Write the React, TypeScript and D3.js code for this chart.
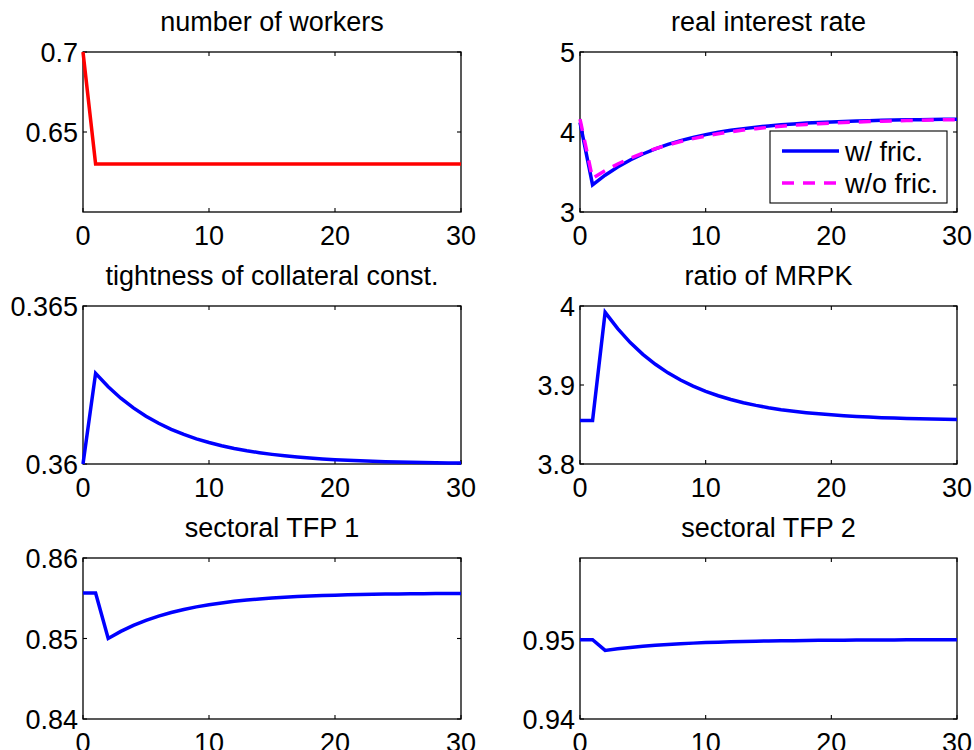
import React from 'react';
import * as d3 from 'd3';

// periods 0..30
const periods = d3.range(0, 31);

const workers = [0.7, 0.63, 0.63, 0.63, 0.63, 0.63, 0.63, 0.63, 0.63, 0.63, 0.63,
  0.63, 0.63, 0.63, 0.63, 0.63, 0.63, 0.63, 0.63, 0.63, 0.63,
  0.63, 0.63, 0.63, 0.63, 0.63, 0.63, 0.63, 0.63, 0.63, 0.63];

const rateFric = [4.12, 3.34, 3.46, 3.562, 3.65, 3.725, 3.79, 3.845, 3.892, 3.932, 3.967,
  3.996, 4.021, 4.042, 4.06, 4.076, 4.09, 4.101, 4.111, 4.119, 4.126,
  4.132, 4.137, 4.142, 4.146, 4.149, 4.152, 4.154, 4.156, 4.158, 4.16];

const rateNoFric = [4.16, 3.42, 3.516, 3.6, 3.673, 3.736, 3.791, 3.839, 3.881, 3.917, 3.95,
  3.978, 4.003, 4.024, 4.042, 4.058, 4.072, 4.084, 4.095, 4.104, 4.112,
  4.119, 4.125, 4.13, 4.135, 4.139, 4.143, 4.146, 4.149, 4.152, 4.155];

const tightness = [0.36, 0.36287, 0.362445, 0.362083, 0.361775, 0.361512, 0.361288, 0.361098, 0.360935, 0.360797, 0.360679,
  0.360578, 0.360493, 0.36042, 0.360358, 0.360305, 0.36026, 0.360221, 0.360188, 0.360161, 0.360137,
  0.360117, 0.3601, 0.360085, 0.360072, 0.360062, 0.360052, 0.360045, 0.360038, 0.360032, 0.360028];

const mrpk = [3.855, 3.855, 3.992, 3.9713, 3.9537, 3.9388, 3.9262, 3.9154, 3.9063, 3.8986, 3.892,
  3.8864, 3.8816, 3.8776, 3.8742, 3.8713, 3.8688, 3.8668, 3.865, 3.8635, 3.8622,
  3.8611, 3.8602, 3.8594, 3.8587, 3.8582, 3.8577, 3.8573, 3.857, 3.8567, 3.8564];

const tfp1 = [0.85565, 0.85565, 0.85, 0.850881, 0.851625, 0.852253, 0.852783, 0.85323, 0.853608, 0.853926, 0.854195,
  0.854422, 0.854614, 0.854775, 0.854912, 0.855027, 0.855124, 0.855206, 0.855275, 0.855334, 0.855383,
  0.855425, 0.85546, 0.85549, 0.855515, 0.855536, 0.855554, 0.855569, 0.855581, 0.855592, 0.855601];

const tfp2 = [0.95, 0.95, 0.94865, 0.948852, 0.949025, 0.949171, 0.949295, 0.949401, 0.949491, 0.949567, 0.949632,
  0.949687, 0.949734, 0.949774, 0.949808, 0.949837, 0.949861, 0.949882, 0.9499, 0.949915, 0.949928,
  0.94994, 0.94995, 0.94996, 0.94997, 0.94997, 0.94998, 0.94998, 0.94998, 0.94999, 0.94999];

const xTicks = [0, 10, 20, 30];

const titles = ['number of workers', 'real interest rate', 'tightness of collateral const.',
  'ratio of MRPK', 'sectoral TFP 1', 'sectoral TFP 2'];
const yDomains = [[0.6, 0.7], [3, 5], [0.36, 0.365], [3.8, 4], [0.84, 0.86], [0.94, 0.9603]];
const yTicks = [[0.65, 0.7], [3, 4, 5], [0.36, 0.365], [3.8, 3.9, 4], [0.84, 0.85, 0.86], [0.94, 0.95]];
const yTickLabels = [['0.65', '0.7'], ['3', '4', '5'], ['0.36', '0.365'], ['3.8', '3.9', '4'],
  ['0.84', '0.85', '0.86'], ['0.94', '0.95']];

const legendLabels = ['w/ fric.', 'w/o fric.'];

type Series = { values: number[]; color: string; dash?: string };

const panelSeries: Series[][] = [
  [{ values: workers, color: '#ff0000' }],
  [{ values: rateFric, color: '#0000ff' }, { values: rateNoFric, color: '#ff00ff', dash: '12,9' }],
  [{ values: tightness, color: '#0000ff' }],
  [{ values: mrpk, color: '#0000ff' }],
  [{ values: tfp1, color: '#0000ff' }],
  [{ values: tfp2, color: '#0000ff' }],
];

const W = 974;
const H = 750;
const colX = [[83, 461], [580, 957]];
const rowY = [[52, 212], [306, 464], [558, 719]];
const FONT = '"Liberation Sans", Arial, Helvetica, sans-serif';
const FS = 27;
const TICK = 4;

const Panel: React.FC<{ idx: number }> = ({ idx }) => {
  const [x0, x1] = colX[idx % 2];
  const [y0, y1] = rowY[Math.floor(idx / 2)];
  const x = d3.scaleLinear().domain([0, 30]).range([x0, x1]);
  const y = d3.scaleLinear().domain(yDomains[idx]).range([y1, y0]);
  const line = d3.line<number>().x((_, i) => x(periods[i])).y(d => y(d));

  return (
    <g>
      <text x={(x0 + x1) / 2} y={y0 - 21} textAnchor="middle" fontSize={FS}>{titles[idx]}</text>
      <rect x={x0} y={y0} width={x1 - x0} height={y1 - y0} fill="white" stroke="black" strokeWidth={1.3} />
      {xTicks.map(t => (
        <g key={'x' + t}>
          <line x1={x(t)} x2={x(t)} y1={y1} y2={y1 - TICK} stroke="black" strokeWidth={1.1} />
          <line x1={x(t)} x2={x(t)} y1={y0} y2={y0 + TICK} stroke="black" strokeWidth={1.1} />
          <text x={x(t)} y={y1 + 33} textAnchor="middle" fontSize={FS}>{t}</text>
        </g>
      ))}
      {yTicks[idx].map((t, i) => (
        <g key={'y' + t}>
          <line x1={x0} x2={x0 + TICK} y1={y(t)} y2={y(t)} stroke="black" strokeWidth={1.1} />
          <line x1={x1} x2={x1 - TICK} y1={y(t)} y2={y(t)} stroke="black" strokeWidth={1.1} />
          <text x={x0 - 5} y={y(t) + 10} textAnchor="end" fontSize={FS}>{yTickLabels[idx][i]}</text>
        </g>
      ))}
      {panelSeries[idx].map((s, i) => (
        <path key={i} d={line(s.values) || ''} fill="none" stroke={s.color} strokeWidth={3.5}
          strokeDasharray={s.dash} strokeLinejoin="miter" />
      ))}
      {idx === 1 && (
        <g>
          <rect x={770} y={131} width={177} height={72} fill="white" stroke="black" strokeWidth={1.1} />
          {panelSeries[1].map((s, i) => (
            <g key={'l' + i}>
              <line x1={782} x2={839} y1={151 + i * 32} y2={151 + i * 32} stroke={s.color}
                strokeWidth={3.5} strokeDasharray={s.dash} />
              <text x={845} y={161 + i * 32} fontSize={FS}>{legendLabels[i]}</text>
            </g>
          ))}
        </g>
      )}
    </g>
  );
};

export default function App() {
  return (
    <svg width={W} height={H} style={{ position: 'absolute', left: 0, top: 0, background: 'white' }}
      fontFamily={FONT} fill="black">
      <rect width={W} height={H} fill="white" />
      {titles.map((_, i) => <Panel key={i} idx={i} />)}
    </svg>
  );
}
